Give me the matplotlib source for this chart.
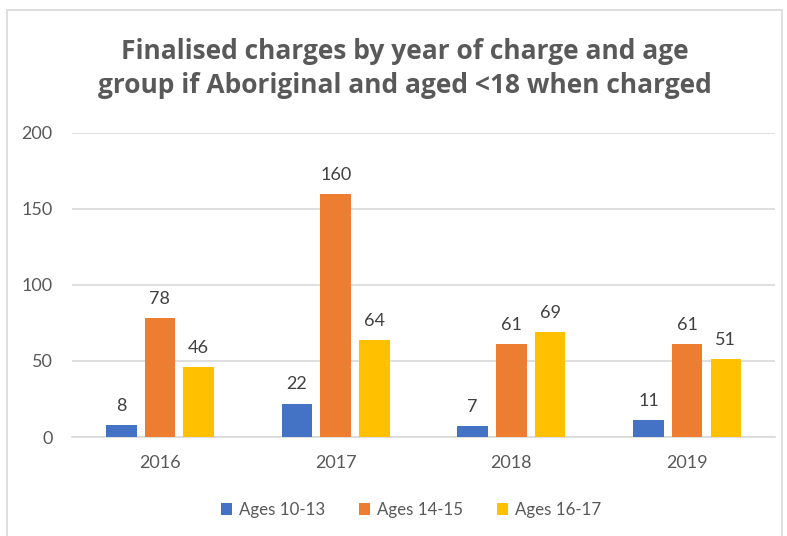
import matplotlib
matplotlib.use('Agg')
import matplotlib.pyplot as plt
import numpy as np
from matplotlib.patches import Rectangle

# 数据
years = ['2016', '2017', '2018', '2019']
ages_10_13 = [8, 22, 7, 11]
ages_14_15 = [78, 160, 61, 61]
ages_16_17 = [46, 64, 69, 51]
series_labels = ['Ages 10-13', 'Ages 14-15', 'Ages 16-17']
series_colors = ['#4472C4', '#ED7D31', '#FFC000']
y_ticks = [0, 50, 100, 150, 200]

title = 'Finalised charges by year of charge and age\ngroup if Aboriginal and aged <18 when charged'

text_color = '#595959'
grid_color = '#D9D9D9'

plt.rcParams['font.family'] = ['Lato', 'DejaVu Sans']

fig = plt.figure(figsize=(7.87, 5.36), dpi=100)
ax = fig.add_axes([0.0915, 0.1847, 0.8933, 0.5672])

# 外框
fig.patches.append(Rectangle((7 / 787, -0.01), 775 / 787, 1 - 10 / 536 + 0.01,
                             transform=fig.transFigure, fill=False,
                             edgecolor='#D9D9D9', linewidth=1.2))

x = np.arange(len(years))
width = 0.174
offset = 0.22
all_series = [ages_10_13, ages_14_15, ages_16_17]

for i, (vals, lab, col) in enumerate(zip(all_series, series_labels, series_colors)):
    pos = x + (i - 1) * offset
    bars = ax.bar(pos, vals, width=width, color=col, label=lab, zorder=3)
    for b, v in zip(bars, vals):
        ax.annotate(str(v), (b.get_x() + b.get_width() / 2, v),
                    xytext=(0, 8), textcoords='offset points',
                    ha='center', va='bottom', fontsize=13, color='#404040')

ax.set_xlim(-0.5, len(years) - 0.5)
ax.set_ylim(0, 200)
ax.set_yticks(y_ticks)
ax.set_xticks(x)
ax.set_xticklabels(years)

ax.yaxis.grid(True, color=grid_color, linewidth=1.2, zorder=0)
for s in ['top', 'right', 'left']:
    ax.spines[s].set_visible(False)
ax.spines['bottom'].set_color(grid_color)
ax.spines['bottom'].set_linewidth(1.2)
ax.tick_params(axis='both', length=0, labelsize=13, labelcolor=text_color)
ax.tick_params(axis='y', pad=14)
ax.tick_params(axis='x', pad=13)

fig.text(0.515, 0.872, title, ha='center', va='center', fontsize=19,
         fontweight='bold', color=text_color, family=['Open Sans', 'DejaVu Sans'],
         linespacing=1.3)

ax.legend(loc='center', bbox_to_anchor=(0.482, -0.24), ncol=3, frameon=False,
          fontsize=12.2, labelcolor=text_color, handlelength=0.65, handleheight=0.65,
          handletextpad=0.4, columnspacing=2.0)

plt.savefig('out.png', dpi=100)
